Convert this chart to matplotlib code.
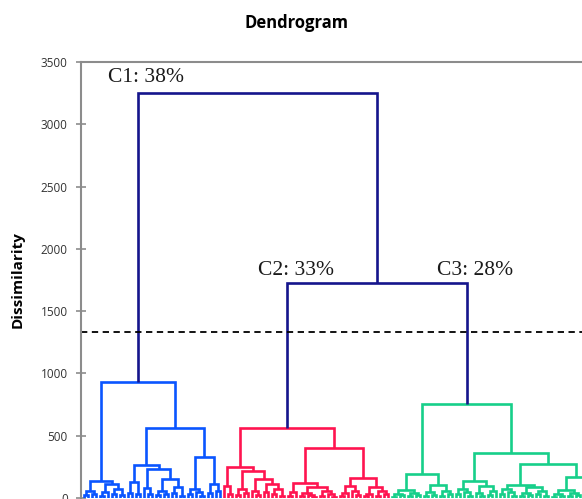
import matplotlib.pyplot as plt

L = 0  # one observation (leaf)

# merge heights: [height, left, right]
c1_tree = [930,
           [140, [55, [25, L, L], [35, L, L]],
                 [110, [45, [20, L, L], L], [70, [30, L, L], [25, L, L]]]],
           [560, [265, [125, [40, L, L], [30, L, L]],
                       [233, [80, L, [30, L, L]],
                             [152, [60, [25, L, L], [35, L, L]],
                                   [90, [40, L, L], [20, L, L]]]]],
                 [331, [70, [30, L, L], [45, L, [20, L, L]]],
                       [110, [40, L, L], [60, L, L]]]]]

c2_tree = [560,
           [249, [95, L, [30, L, L]],
                 [217, [70, [25, L, L], [40, L, L]],
                       [150, [60, L, [25, L, L]],
                             [115, [45, L, L], [70, [30, L, L], [20, L, L]]]]]],
           [401, [123, [50, [20, L, L], L],
                       [85, [40, [15, L, L], [25, L, [10, L, L]]],
                            [55, [20, L, L], [35, L, [12, L, L]]]]],
                 [163, [100, [40, [15, L, L], L], [60, L, [25, L, L]]],
                       [90, [35, [15, L, L], L], [55, [20, L, L], [30, L, L]]]]]]

c3_tree = [754,
           [195, [64, [30, [12, L, L], [22, L, L]], [40, [15, L, L], [25, L, L]]],
                 [104, [45, [20, L, L], [28, L, L]], [60, [18, L, L], [30, L, L]]]],
           [360, [136, [75, [30, L, L], [45, L, [20, L, L]]],
                       [100, [40, L, [15, L, L]], [55, [25, L, L], L]]],
                 [270, [104, [75, [30, L, L], [50, L, [20, L, L]]],
                             [85, [40, [15, L, L], [25, L, L]], [60, [30, L, L], [20, L, L]]]],
                       [171, [65, [30, [12, L, L], [20, L, L]], [40, [15, L, L], [25, L, L]]],
                             [40, L, L]]]]]

c23_height = 1726
root_height = 3250
cut_height = 1332

cluster_labels = ['C1: 38%', 'C2: 33%', 'C3: 28%']
cluster_colors = ['#0a55ff', '#ff1450', '#17cf8a']
top_color = '#15158c'

LW = 1.9


def draw_tree(ax, node, counter, color):
    """Draw a subtree; leaves are placed one unit apart. Returns (x, height)."""
    if not isinstance(node, list):
        x = counter[0]
        counter[0] += 1
        return x, 0
    h, left, right = node
    xl, hl = draw_tree(ax, left, counter, color)
    xr, hr = draw_tree(ax, right, counter, color)
    ax.plot([xl, xl, xr, xr], [hl, h, h, hr], color=color, lw=LW,
            solid_joinstyle='miter', solid_capstyle='butt')
    return (xl + xr) / 2, h


def link(ax, a, b, h):
    ax.plot([a[0], a[0], b[0], b[0]], [a[1], h, h, b[1]], color=top_color, lw=LW,
            solid_joinstyle='miter', solid_capstyle='butt')
    return (a[0] + b[0]) / 2, h


fig = plt.figure(figsize=(5.82, 4.99), dpi=100)
ax = fig.add_axes([81 / 582, 1 / 499, (700 - 81) / 582, 436 / 499])

counter = [0]
tops = []
for tree, col in zip([c1_tree, c2_tree, c3_tree], cluster_colors):
    tops.append(draw_tree(ax, tree, counter, col))

c23 = link(ax, tops[1], tops[2], c23_height)
link(ax, tops[0], c23, root_height)

ax.axhline(cut_height, color='black', lw=1.3, ls=(0, (3.5, 2.5)))

# cluster labels
serif = 'Liberation Serif'
ax.text(6, 3339, cluster_labels[0], fontsize=15.5, family=serif, color='#1a1a1a')
ax.text(43.5, 1790, cluster_labels[1], fontsize=15.5, family=serif, color='#1a1a1a')
ax.text(88.25, 1790, cluster_labels[2], fontsize=15.5, family=serif, color='#1a1a1a')

ax.set_xlim(-0.75, 154)
ax.set_ylim(0, 3500)
ax.set_yticks(range(0, 3501, 500))
ax.set_xticks([])
ax.tick_params(axis='y', direction='inout', length=7, width=1.2, colors='#8c8c8c',
               labelcolor='#333333', labelsize=8.5, pad=6)
for lab in ax.get_yticklabels():
    lab.set_family('Open Sans')

for side in ['left', 'top']:
    ax.spines[side].set_color('#8c8c8c')
    ax.spines[side].set_linewidth(1.5)
ax.spines['right'].set_visible(False)
ax.spines['bottom'].set_visible(False)

fig.text(297 / 582, 1 - 23 / 499, 'Dendrogram', ha='center', va='center',
         fontsize=12, fontweight='bold', family='Open Sans')
fig.text(18 / 582, 1 - 280 / 499, 'Dissimilarity', ha='center', va='center',
         rotation=90, fontsize=11, fontweight='bold', family='Open Sans')

fig.savefig('out.png', dpi=100)
